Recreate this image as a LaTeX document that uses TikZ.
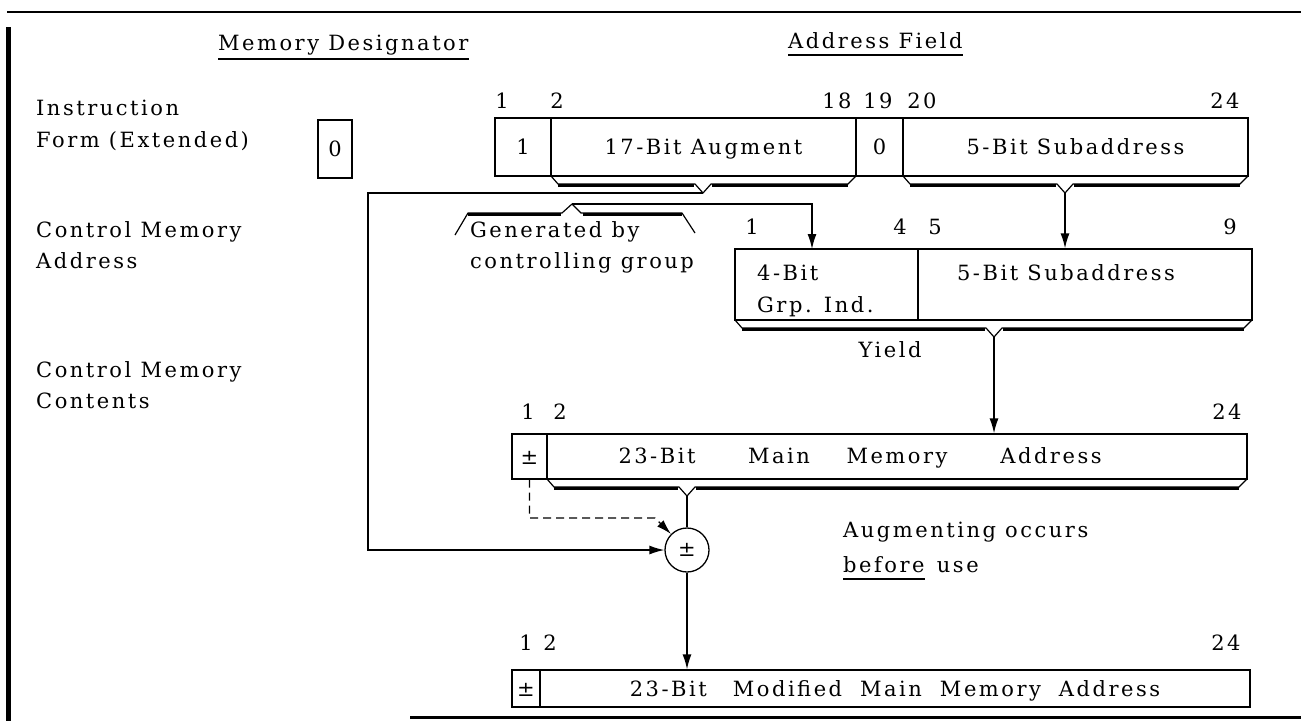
\documentclass[tikz,border=0pt]{standalone}
\usepackage{fontspec}
\setmainfont[LetterSpace=12]{DejaVu Serif}
\usetikzlibrary{arrows.meta}
\newcommand\shbar[4]{%
  \draw[line width=1.2pt, line join=round] (#1,#3) -- ({#1+7},{#3+8}) -- ({#4-8},{#3+8}) -- (#4,{#3+17}) -- ({#4+8},{#3+8}) -- ({#2-8},{#3+8}) -- (#2,#3);
  \draw[line width=3pt] ({#1+7},{#3+9.5}) -- ({#4-9},{#3+9.5});
  \draw[line width=3pt] ({#4+9},{#3+9.5}) -- ({#2-8},{#3+9.5});
}
\begin{document}
\begin{tikzpicture}[x=1pt,y=-1pt,
  lbl/.style={inner sep=0pt, font=\fontsize{21}{24}\selectfont},
  cell/.style={draw, line width=1.3pt, inner sep=0pt, font=\fontsize{21}{24}\selectfont, text height=15pt, text depth=0pt},
  conn/.style={line width=1.4pt},
  arr/.style={conn, -{Latex[length=15pt,width=9pt]}}]
\useasboundingbox (0,0) rectangle (1301,721);

% frame
\draw[line width=1.3pt] (7,12) -- (1301,12);
\draw[line width=5pt] (8,27) -- (8,721);
\draw[line width=3pt] (410,717) -- (1301,717);

% headers
\node[lbl, anchor=base west] (md) at (218,50) {Memory Designator};
\draw[line width=1.2pt] ([yshift=-9pt]md.base west) -- ([yshift=-9pt]md.base east);
\node[lbl, anchor=base west] (af) at (788,48) {Address Field};
\draw[line width=1.2pt] ([yshift=-7pt]af.base west) -- ([yshift=-7pt]af.base east);

% left labels
\node[lbl, anchor=base west] (l1a) at (36,115) {Instruction};
\node[lbl, anchor=base west] (l1b) at (36,147) {Form (Extended)};
\node[lbl, anchor=base west] (l2a) at (36,237) {Control Memory};
\node[lbl, anchor=base west] (l2b) at (36,268) {Address};
\node[lbl, anchor=base west] (l3a) at (36,377) {Control Memory};
\node[lbl, anchor=base west] (l3b) at (36,408) {Contents};

% memory designator box
\node[cell, minimum width=34pt, minimum height=58pt] (mdz) at (335,149) {0};

% instruction row
\node[cell, minimum width=56pt, minimum height=58pt] (i1) at (523,147) {1};
\node[cell, minimum width=305pt, minimum height=58pt] (i2) at (703.5,147) {17-Bit Augment};
\node[cell, minimum width=47pt, minimum height=58pt] (i3) at (879.5,147) {0};
\node[cell, minimum width=345pt, minimum height=58pt] (i4) at (1075.5,147) {5-Bit Subaddress\hspace{48pt}};
\foreach \n/\x/\t in {n1/502/1, n2/557/2, n18/837/18, n19/878/19, n20/922/20, n24/1225/24}
  \node[lbl, anchor=base] (\n) at (\x,108) {\t};
\shbar{551}{856}{176}{703}
\shbar{903}{1248}{176}{1065}
\coordinate (t1) at (703,193);
\coordinate (t2) at (1065,193);

% generated by
\node[lbl, anchor=base west] (gen1) at (470,237) {Generated by};
\node[lbl, anchor=base west] (gen2) at (470,268) {controlling group};
\draw[line width=1.2pt, line join=round] (455,235) -- (468,213) -- (562,213) -- (572,204) -- (581,213) -- (682,213) -- (695,233);
\draw[line width=3pt] (468,214.5) -- (561,214.5);
\draw[line width=3pt] (583,214.5) -- (682,214.5);
\coordinate (gpk) at (572,204);
\coordinate (g1in) at (812,249);

% control memory address row
\node[cell, minimum width=183pt, minimum height=71pt] (g1) at (826.5,284.5) {};
\node[cell, minimum width=334pt, minimum height=71pt] (g2) at (1085,284.5) {};
\node[lbl, anchor=base west] (g1a) at (757,280) {4-Bit};
\node[lbl, anchor=base west] (g1b) at (757,312) {Grp. Ind.};
\node[lbl, anchor=base] (g2a) at (1066,280) {5-Bit Subaddress};
\foreach \n/\x/\t in {c1/752/1, c4/900/4, c5/935/5, c9/1230/9}
  \node[lbl, anchor=base] (\n) at (\x,234) {\t};
\shbar{735}{1252}{320}{994}
\coordinate (t3) at (994,337);
\node[lbl, anchor=base] (yld) at (890,357) {Yield};

% control memory contents row
\node[cell, minimum width=35pt, minimum height=45pt] (m1) at (529.5,456.5) {±};
\node[cell, minimum width=700pt, minimum height=45pt] (m2) at (897,456.5) {};
\node[lbl, anchor=base] (w1) at (657,463) {23-Bit};
\node[lbl, anchor=base] (w2) at (779,463) {Main};
\node[lbl, anchor=base] (w3) at (897,463) {Memory};
\node[lbl, anchor=base] (w4) at (1051,463) {Address};
\foreach \n/\x/\t in {mm1/528/1, mm2/560/2, mm24/1227/24}
  \node[lbl, anchor=base] (\n) at (\x,419) {\t};
\shbar{547}{1247}{479}{687}
\coordinate (t4) at (687,496);

% adder
\node[draw, circle, line width=1.3pt, minimum size=44pt, inner sep=0pt, font=\fontsize{21}{24}\selectfont] (circ) at (687,550) {±};
\node[lbl, anchor=base west] (aug1) at (843,537) {Augmenting occurs};
\node[lbl, anchor=base west] (aug2) at (843,572) {before};
\node[lbl, anchor=base west] (aug3) at ([xshift=12pt]aug2.base east) {use};
\draw[line width=1.5pt] ([yshift=-7pt]aug2.base west) -- ([yshift=-7pt]aug2.base east);

% modified address row
\node[cell, minimum width=28pt, minimum height=37pt] (b1) at (526,688.5) {±};
\node[cell, minimum width=710pt, minimum height=37pt] (b2) at (895,688.5) {23-Bit\hspace{26pt}Modified\hspace{18pt}Main\hspace{18pt}Memory\hspace{18pt}Address};
\foreach \n/\x/\t in {bb1/526/1, bb2/550/2, bb24/1226/24}
  \node[lbl, anchor=base] (\n) at (\x,650) {\t};

% connectors
\coordinate (lft) at (368,193);
\coordinate (dk) at (655,518);
\draw[arr] (t1) -- (lft) |- (circ);
\draw[arr] (t2) -- (t2 |- g2.north);
\draw[arr] (gpk) -| (g1in);
\draw[arr] (t3) -- (t3 |- m2.north);
\draw[conn] (t4) -- (circ.north);
\draw[arr] (circ.south) -- (circ.south |- b2.north);
\draw[arr, dash pattern=on 8pt off 5pt] (m1.south) |- (dk) -- (circ.135);
\end{tikzpicture}
\end{document}
